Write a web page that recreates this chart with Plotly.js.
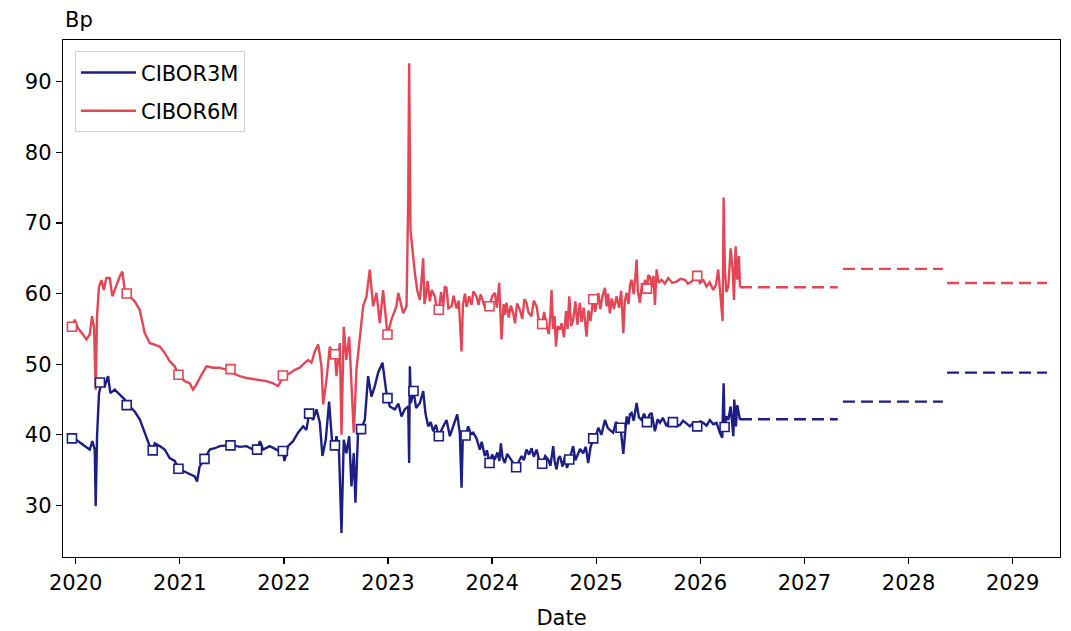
<!DOCTYPE html>
<html>
<head>
<meta charset="utf-8">
<script src="https://cdn.plot.ly/plotly-3.0.1.min.js"></script>
<style>html,body{margin:0;padding:0;background:#fff;}#chart{width:1071px;height:631px;}</style>
</head>
<body>
<div id="chart"></div>
<script>
// ---- data (x in decimal years) ----
const dates3M = [2019.936,2020.006,2020.07,2020.135,2020.16,2020.183,2020.192,2020.205,2020.224,2020.247,2020.279,2020.311,2020.333,2020.375,2020.423,2020.471,2020.49,2020.519,2020.567,2020.615,2020.663,2020.711,2020.74,2020.759,2020.807,2020.855,2020.903,2020.951,2020.987,2021.047,2021.095,2021.143,2021.166,2021.19,2021.237,2021.288,2021.336,2021.384,2021.448,2021.487,2021.512,2021.576,2021.64,2021.704,2021.742,2021.77,2021.80,2021.864,2021.928,2021.976,2021.99,2022.005,2022.04,2022.088,2022.136,2022.184,2022.216,2022.242,2022.265,2022.28,2022.313,2022.345,2022.37,2022.402,2022.434,2022.466,2022.49,2022.505,2022.53,2022.553,2022.575,2022.60,2022.627,2022.649,2022.671,2022.687,2022.713,2022.741,2022.777,2022.809,2022.841,2022.873,2022.905,2022.947,2022.985,2022.995,2023.017,2023.065,2023.10,2023.13,2023.16,2023.194,2023.203,2023.21,2023.22,2023.245,2023.27,2023.306,2023.338,2023.36,2023.386,2023.41,2023.434,2023.46,2023.488,2023.52,2023.562,2023.594,2023.63,2023.665,2023.69,2023.706,2023.72,2023.745,2023.77,2023.795,2023.818,2023.85,2023.882,2023.90,2023.93,2023.95,2023.975,2024.0,2024.026,2024.05,2024.07,2024.084,2024.10,2024.122,2024.145,2024.17,2024.2,2024.231,2024.255,2024.283,2024.305,2024.33,2024.355,2024.379,2024.40,2024.427,2024.45,2024.481,2024.51,2024.539,2024.56,2024.587,2024.60,2024.619,2024.635,2024.651,2024.677,2024.70,2024.72,2024.741,2024.76,2024.779,2024.80,2024.818,2024.845,2024.875,2024.90,2024.923,2024.945,2024.971,2025.0,2025.02,2025.05,2025.084,2025.11,2025.131,2025.163,2025.19,2025.234,2025.26,2025.292,2025.31,2025.323,2025.34,2025.36,2025.388,2025.41,2025.436,2025.46,2025.487,2025.51,2025.532,2025.55,2025.564,2025.59,2025.612,2025.64,2025.676,2025.70,2025.737,2025.77,2025.804,2025.835,2025.868,2025.90,2025.932,2025.97,2026.0,2026.028,2026.06,2026.092,2026.125,2026.156,2026.188,2026.211,2026.224,2026.233,2026.25,2026.269,2026.291,2026.305,2026.317,2026.326,2026.342,2026.355,2026.365,2026.381];
const cibor3M = [39.6,39.3,38.6,37.9,39.1,37.9,29.9,39.8,45.9,47.3,46.9,48.3,45.9,46.4,45.7,45.0,44.2,44.0,43.3,42.2,40.3,38.4,37.8,38.8,38.4,37.9,36.7,36.3,35.2,34.8,34.4,34.1,33.4,35.5,36.6,37.9,38.1,38.4,38.5,38.5,38.5,38.3,38.4,37.9,37.9,39.1,37.9,38.4,37.9,37.4,37.7,36.3,38.4,39.1,40.3,41.2,40.7,43.0,42.4,42.1,43.6,41.7,37.0,39.3,44.7,38.4,38.5,39.8,37.4,26.1,39.3,37.4,39.8,32.7,37.4,30.4,40.7,40.8,42.1,48.3,45.4,46.9,48.8,50.2,45.9,45.2,44.0,43.6,44.4,42.6,43.6,44.0,36.0,49.7,44.5,46.2,43.8,44.5,46.2,43.0,41.2,41.8,40.5,41.4,39.8,40.9,42.1,39.8,41.3,42.9,40.2,32.5,40.5,39.9,41.2,40.1,40.3,39.5,37.9,39.0,37.0,37.8,36.0,37.2,36.5,37.5,36.3,38.8,36.8,36.0,37.3,36.7,36.0,35.4,36.2,37.0,36.4,37.9,37.2,38.1,36.9,37.9,36.5,35.9,37.0,36.5,35.6,38.4,36.3,35.1,36.6,37.0,35.5,37.0,35.3,36.5,37.6,38.4,36.4,37.0,38.0,37.4,38.3,36.0,38.2,39.5,40.0,41.0,40.0,42.1,41.0,40.7,40.3,41.8,41.0,37.3,42.6,41.5,42.9,43.1,42.0,44.5,42.5,42.1,43.0,41.8,42.8,43.1,41.6,40.5,42.2,41.7,42.4,41.2,42.0,41.8,41.2,41.4,42.0,41.6,41.2,41.7,41.2,41.9,41.7,41.3,42.1,41.5,41.7,40.3,39.6,47.3,41.1,42.6,42.1,44.0,41.0,39.8,45.0,41.2,44.2,43.1,42.1];

const dates6M = [2019.936,2019.964,2019.99,2020.022,2020.07,2020.103,2020.135,2020.157,2020.176,2020.192,2020.205,2020.224,2020.247,2020.269,2020.295,2020.327,2020.352,2020.384,2020.423,2020.448,2020.471,2020.49,2020.519,2020.567,2020.615,2020.663,2020.711,2020.759,2020.807,2020.855,2020.903,2020.951,2020.987,2021.047,2021.095,2021.127,2021.159,2021.208,2021.256,2021.32,2021.384,2021.448,2021.487,2021.512,2021.576,2021.64,2021.704,2021.768,2021.832,2021.896,2021.944,2022.0,2022.056,2022.104,2022.152,2022.2,2022.233,2022.265,2022.297,2022.329,2022.361,2022.377,2022.409,2022.441,2022.473,2022.49,2022.505,2022.537,2022.553,2022.575,2022.6,2022.627,2022.649,2022.671,2022.697,2022.729,2022.761,2022.793,2022.825,2022.857,2022.889,2022.921,2022.953,2022.995,2023.033,2023.081,2023.098,2023.146,2023.178,2023.194,2023.203,2023.216,2023.235,2023.258,2023.28,2023.306,2023.32,2023.338,2023.35,2023.363,2023.38,2023.402,2023.42,2023.45,2023.47,2023.488,2023.51,2023.53,2023.545,2023.562,2023.58,2023.61,2023.63,2023.658,2023.68,2023.706,2023.72,2023.74,2023.754,2023.78,2023.802,2023.82,2023.85,2023.87,2023.89,2023.914,2023.94,2023.975,2024.0,2024.026,2024.045,2024.068,2024.08,2024.09,2024.11,2024.125,2024.138,2024.16,2024.18,2024.203,2024.22,2024.24,2024.267,2024.29,2024.31,2024.33,2024.35,2024.379,2024.40,2024.427,2024.45,2024.481,2024.50,2024.523,2024.545,2024.56,2024.571,2024.585,2024.60,2024.613,2024.63,2024.651,2024.667,2024.69,2024.71,2024.725,2024.741,2024.76,2024.779,2024.80,2024.82,2024.843,2024.86,2024.88,2024.907,2024.925,2024.945,2024.971,2024.99,2025.02,2025.04,2025.06,2025.084,2025.10,2025.115,2025.131,2025.15,2025.17,2025.195,2025.22,2025.24,2025.26,2025.275,2025.292,2025.31,2025.325,2025.34,2025.36,2025.375,2025.388,2025.40,2025.42,2025.44,2025.455,2025.468,2025.487,2025.50,2025.516,2025.535,2025.55,2025.564,2025.58,2025.60,2025.628,2025.66,2025.692,2025.73,2025.772,2025.81,2025.852,2025.88,2025.916,2025.94,2025.97,2025.996,2026.03,2026.06,2026.09,2026.124,2026.15,2026.172,2026.195,2026.214,2026.224,2026.236,2026.25,2026.269,2026.291,2026.31,2026.323,2026.339,2026.355,2026.371,2026.381];
const cibor6M = [55.3,55.3,56.3,55.1,54.2,53.5,54.2,56.8,55.3,46.4,56.8,61.0,61.9,60.5,62.2,62.2,59.6,61.0,62.4,63.1,60.5,60.0,59.6,58.9,57.7,54.4,53.0,52.8,52.5,51.6,50.4,49.7,48.5,47.6,47.3,46.4,47.1,48.5,49.7,49.5,49.5,49.2,49.3,48.7,48.3,48.05,47.9,47.8,47.6,47.3,46.9,48.4,48.7,49.2,49.5,50.2,50.6,50.2,51.8,52.8,49.7,44.3,47.8,52.5,51.1,51.4,48.3,53.0,40.0,55.3,50.6,53.9,46.9,40.3,49.2,53.9,58.2,59.6,63.4,58.2,60.1,55.8,60.5,54.2,56.3,58.2,60.1,57.2,58.2,73.3,92.6,69.0,65.7,62.9,60.5,59.1,61.5,65.0,58.5,59.6,61.8,58.9,60.5,59.6,57.6,57.7,60.2,58.1,61.0,60.8,57.9,58.2,59.7,57.9,59.0,51.8,58.5,60.0,58.1,59.6,58.4,60.3,59.6,58.4,59.9,58.7,57.6,58.2,59.6,60.1,58.0,61.5,57.5,53.5,58.5,57.0,58.7,56.6,58.3,57.2,55.8,58.6,57.7,56.4,59.2,58.7,57.3,56.8,59.0,58.2,56.0,55.7,57.4,55.4,54.3,57.0,60.5,55.0,56.8,52.5,55.4,54.9,55.8,53.8,57.5,55.0,59.6,55.4,56.3,58.9,55.6,58.7,56.0,58.0,53.9,57.6,56.1,59.2,57.4,60.1,57.8,59.6,60.8,58.2,60.0,57.2,59.3,57.8,59.6,58.0,60.4,54.4,59.0,60.1,58.5,61.2,61.95,59.9,62.3,64.8,60.3,58.7,61.5,60.0,61.95,60.7,62.6,62.4,60.9,62.5,58.4,63.4,61.5,61.95,61.4,62.2,61.5,61.7,62.1,61.95,61.4,61.7,62.2,62.5,61.5,61.9,61.0,61.6,60.5,61.2,63.4,59.6,56.1,73.6,63.4,60.2,61.0,66.4,63.4,59.1,66.7,61.95,65.3,60.9];

// quarterly (3M) and semi-annual (6M) marker dates and values
const markDates3M = [2019.964,2020.233,2020.49,2020.74,2020.987,2021.237,2021.487,2021.742,2021.99,2022.242,2022.49,2022.741,2022.995,2023.245,2023.488,2023.745,2023.975,2024.231,2024.481,2024.741,2024.971,2025.234,2025.487,2025.737,2025.97,2026.233];
const markVals3M  = [39.5,47.4,44.2,37.8,35.2,36.6,38.5,37.9,37.7,43.0,38.5,40.8,45.2,46.2,39.8,39.9,36.0,35.4,35.9,36.5,39.5,41.0,41.8,41.8,41.2,41.1];
const markDates6M = [2019.964,2020.49,2020.987,2021.487,2021.99,2022.49,2022.995,2023.488,2023.975,2024.481,2024.971,2025.487,2025.97];
const markVals6M  = [55.3,60.0,48.5,49.3,48.4,51.4,54.2,57.7,58.2,55.7,59.2,60.7,62.5];

// forward (dashed) segments
const fwdStart = [2026.381,2027.37,2028.37];
const fwdEnd   = [2027.32,2028.33,2029.33];
const fwd3M    = [42.2,44.7,48.8];
const fwd6M    = [60.9,63.5,61.5];

const yearTicks = [2020,2021,2022,2023,2024,2025,2026,2027,2028,2029];

// ---- build ----
const BLUE = '#1b1e84';
const RED = '#e34655';
const FONT = {family: 'DejaVu Sans', size: 21, color: '#000'};

function segs(vals){
  const x=[], y=[];
  for(let i=0;i<vals.length;i++){
    x.push(fwdStart[i], fwdEnd[i], null);
    y.push(vals[i], vals[i], null);
  }
  return {x, y};
}
const f3 = segs(fwd3M), f6 = segs(fwd6M);

const traces = [
  {x: dates3M, y: cibor3M, name: 'CIBOR3M', legendgroup: 'a', type: 'scatter', mode: 'lines', line: {color: BLUE, width: 2.4}},
  {x: dates6M, y: cibor6M, name: 'CIBOR6M', legendgroup: 'b', type: 'scatter', mode: 'lines', line: {color: RED, width: 2.4}},
  {x: f3.x, y: f3.y, type: 'scatter', mode: 'lines', showlegend: false, connectgaps: false, line: {color: BLUE, width: 2.4, dash: '12px,6px'}},
  {x: f6.x, y: f6.y, type: 'scatter', mode: 'lines', showlegend: false, connectgaps: false, line: {color: RED, width: 2.4, dash: '12px,6px'}},
  {x: markDates3M, y: markVals3M, type: 'scatter', mode: 'markers', showlegend: false,
   marker: {symbol: 'square', size: 9, color: '#ffffff', line: {color: BLUE, width: 1.6}}},
  {x: markDates6M, y: markVals6M, type: 'scatter', mode: 'markers', showlegend: false,
   marker: {symbol: 'square', size: 9, color: '#ffffff', line: {color: RED, width: 1.6}}}
];

const axisCommon = {
  showgrid: false, zeroline: false, showline: true, mirror: true,
  linecolor: '#000', linewidth: 1.3, ticks: 'outside', ticklen: 6, tickwidth: 1.3, tickcolor: '#000',
  tickfont: FONT
};

const layout = {
  width: 1071, height: 631,
  margin: {l: 63, r: 11, t: 40, b: 74},
  paper_bgcolor: '#fff', plot_bgcolor: '#fff',
  font: FONT,
  showlegend: true,
  legend: {x: 0.012, y: 0.978, xanchor: 'left', yanchor: 'top', bgcolor: 'rgba(255,255,255,0.8)',
           bordercolor: '#d0d0d0', borderwidth: 1, font: FONT, itemwidth: 55,
           traceorder: 'grouped', tracegroupgap: 8},
  xaxis: Object.assign({}, axisCommon, {
    range: [2019.878, 2029.455], tickmode: 'array', tickvals: yearTicks, ticktext: yearTicks.map(String),
    title: {text: 'Date', font: FONT, standoff: 16}
  }),
  yaxis: Object.assign({}, axisCommon, {
    range: [22.7, 95.9], tick0: 0, dtick: 10
  }),
  annotations: [{
    text: 'Bp', xref: 'paper', yref: 'paper', x: 0, y: 1, xanchor: 'left', yanchor: 'bottom',
    yshift: 6, showarrow: false, font: FONT
  }]
};

Plotly.newPlot('chart', traces, layout, {displayModeBar: false, staticPlot: true});
</script>
</body>
</html>
